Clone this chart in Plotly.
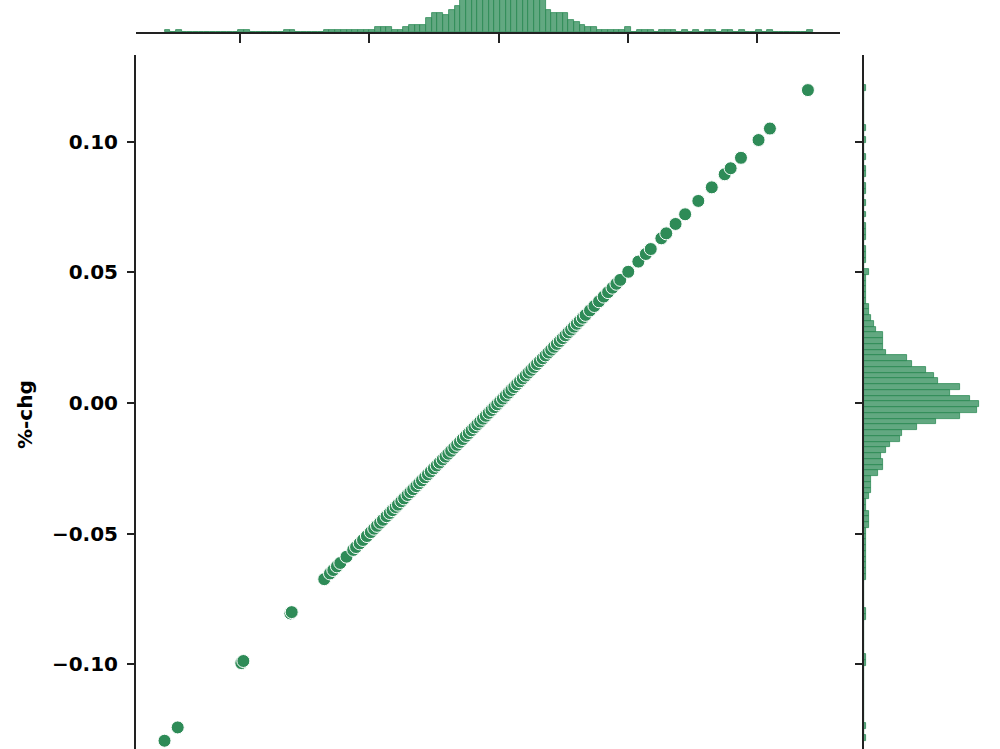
import plotly.graph_objects as go

# daily %-chg values (x and y are the same series)
pct_chg = [
    -0.1292, -0.1241, -0.0995, -0.0987, -0.0805, -0.0800,
    -0.0674, -0.0652, -0.0639, -0.0625, -0.0612, -0.0588, -0.0562, -0.0551,
    -0.0537, -0.0524, -0.0509, -0.0494, -0.0481, -0.0470, -0.0458, -0.0447,
    -0.0433, -0.0421, -0.0410, -0.0398, -0.0389, -0.0376, -0.0365, -0.0352,
    -0.0341, -0.0330, -0.0318, -0.0307, -0.0296, -0.0284, -0.0273, -0.0262,
    -0.0250, -0.0239, -0.0228, -0.0216, -0.0205, -0.0194, -0.0183, -0.0171,
    -0.0160, -0.0149, -0.0138, -0.0126, -0.0115, -0.0104, -0.0093, -0.0082,
    -0.0071, -0.0060, -0.0049, -0.0038, -0.0027, -0.0016, -0.0005, 0.0006,
    0.0017, 0.0028, 0.0039, 0.0050, 0.0061, 0.0072, 0.0083, 0.0094, 0.0105,
    0.0116, 0.0127, 0.0138, 0.0149, 0.0160, 0.0171, 0.0182, 0.0193, 0.0204,
    0.0215, 0.0226, 0.0237, 0.0248, 0.0259, 0.0270, 0.0281, 0.0292, 0.0303,
    0.0314, 0.0326, 0.0337, 0.0354, 0.0371, 0.0389, 0.0407, 0.0424, 0.0441,
    0.0456, 0.0471, 0.0502, 0.0541, 0.0570, 0.0589, 0.0630, 0.0649, 0.0685,
    0.0722, 0.0773, 0.0825, 0.0875, 0.0898, 0.0938, 0.1006, 0.1050, 0.1197,
]

# marginal histogram: first bin edge, bin width and counts per bin
bin_start = -0.1292
bin_width = 0.0022
bin_counts = [
    1, 0, 1, 0, 0, 0, 0, 0, 0, 0,       # 0-9
    0, 0, 0, 1, 1, 0, 0, 0, 0, 0,       # 10-19
    0, 1, 1, 0, 0, 0, 0, 0, 1, 1,       # 20-29
    1, 1, 1, 1, 1, 1, 1, 2, 2, 2,       # 30-39
    1, 1, 2, 3, 3, 3, 6, 8, 8, 7,       # 40-49
    9, 11, 15, 16, 22, 30, 40, 47, 48, 44,  # 50-59
    36, 40, 31, 29, 26, 20, 18, 9, 8, 8,    # 60-69
    8, 5, 4, 3, 2, 2, 1, 1, 1, 1,       # 70-79
    1, 2, 0, 1, 1, 1, 0, 1, 1, 1,       # 80-89
    0, 1, 0, 1, 0, 1, 1, 0, 1, 1,       # 90-99
    0, 1, 0, 0, 1, 0, 1, 0, 0, 0,       # 100-109
    0, 0, 0, 1,                         # 110-113
]
bin_centers = [bin_start + bin_width * (i + 0.5) for i in range(len(bin_counts))]

green = '#2E8B57'
bar_fill = 'rgba(46,139,87,0.75)'
axis_font = dict(family='DejaVu Sans', size=20, color='black', weight='bold')
spine = '#222'

fig = go.Figure()

# joint scatter
fig.add_trace(go.Scatter(
    x=pct_chg, y=pct_chg,
    mode='markers',
    marker=dict(size=13, color=green, line=dict(width=1, color='white')),
    xaxis='x', yaxis='y',
    showlegend=False,
))

# top marginal histogram
fig.add_trace(go.Bar(
    x=bin_centers, y=bin_counts, width=bin_width,
    marker=dict(color=bar_fill, line=dict(width=0.8, color=green)),
    xaxis='x2', yaxis='y2',
    showlegend=False,
))

# right marginal histogram
fig.add_trace(go.Bar(
    y=bin_centers, x=bin_counts, width=bin_width, orientation='h',
    marker=dict(color=bar_fill, line=dict(width=0.8, color=green)),
    xaxis='x3', yaxis='y3',
    showlegend=False,
))

x_range = [-0.14023, 0.13211]
y_range = [-0.13236, 0.13313]

fig.update_layout(
    width=1000, height=749,
    margin=dict(l=0, r=0, t=0, b=0),
    plot_bgcolor='white', paper_bgcolor='white',
    bargap=0,
    font=axis_font,
    xaxis=dict(domain=[0.136, 0.840], range=x_range, anchor='y',
               showgrid=False, zeroline=False, showticklabels=False,
               showline=False, ticks=''),
    yaxis=dict(domain=[0, 0.92657], range=y_range, anchor='x',
               showgrid=False, zeroline=False,
               showline=True, linecolor=spine, linewidth=2,
               ticks='outside', ticklen=7, tickwidth=2, tickcolor=spine,
               tick0=0, dtick=0.05, tickformat='.2f',
               ticklabelstandoff=5, tickfont=axis_font),
    xaxis2=dict(domain=[0.136, 0.840], range=x_range, anchor='y2',
                showgrid=False, zeroline=False, showticklabels=False,
                showline=True, linecolor=spine, linewidth=2,
                ticks='outside', ticklen=9, tickwidth=2, tickcolor=spine,
                tick0=0, dtick=0.05),
    yaxis2=dict(domain=[0.9573, 1], range=[0, 13.33], anchor='x2',
                visible=False),
    xaxis3=dict(domain=[0.864, 1.0], range=[0, 56.7], anchor='y3',
                visible=False),
    yaxis3=dict(domain=[0, 0.92657], range=y_range, anchor='x3',
                showgrid=False, zeroline=False, showticklabels=False,
                showline=True, linecolor=spine, linewidth=2,
                ticks='outside', ticklen=7, tickwidth=2, tickcolor=spine,
                tick0=0, dtick=0.05),
)

# y label placed like the matplotlib one
fig.add_annotation(
    text='%-chg', textangle=-90,
    xref='paper', yref='paper', x=0.025, y=(749 - 415) / 749,
    xanchor='center', yanchor='middle',
    showarrow=False, font=axis_font,
)

# drop the default page margin so the figure sits at the window corner
fig.write_html('out.html', config={'displayModeBar': False},
               post_script="document.body.style.margin='0';")
